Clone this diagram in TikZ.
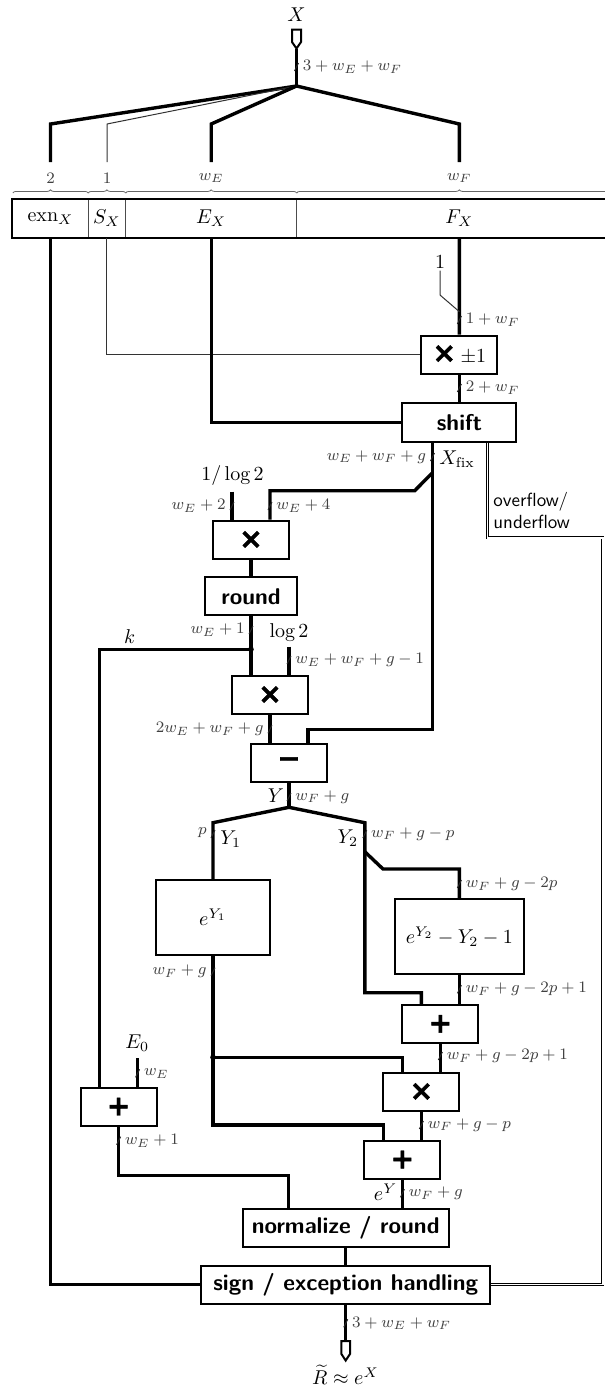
\documentclass[tikz,border=0pt]{standalone}
\usepackage{fontspec}
\newfontfamily\opfont{DejaVu Sans}[BoldFeatures={FakeBold=1.5}]
\usetikzlibrary{decorations.pathreplacing}
\newcommand\bustick[2]{\draw[tickln] (#1,#2) ++(-2,4) -- ++(4,-8);}
\begin{document}
\begin{tikzpicture}[x=0.5pt,y=-0.5pt,
  bus/.style={line width=1.7pt},
  wire/.style={line width=0.5pt,black!80},
  blk/.style={draw,line width=1pt,fill=white,inner sep=0pt,minimum width=38pt,minimum height=19pt,font=\sffamily\bfseries\fontsize{11.4}{13}\selectfont},
  opr/.style={blk,font=\opfont\bfseries\fontsize{14}{14}\selectfont},
  regfield/.style={draw=black!70,line width=0.4pt,inner sep=0pt,minimum height=19pt},
  lbl/.style={inner sep=1pt,font=\footnotesize,text=black!75},
  sig/.style={inner sep=1pt},
  tickln/.style={line width=0.5pt,black!85},
  dbl/.style={double,double distance=0.8pt,line width=0.4pt},
  brc/.style={decorate,decoration={brace,amplitude=1.6pt},line width=0.4pt,black!60},
  pinbox/.style={line width=1pt,fill=white}]
\useasboundingbox (0,0) rectangle (605,1389);
\clip (0,0) rectangle (605,1389);

% ---------- input ----------
\node[sig] (Xl) at (296.5,15) {$X$};
\coordinate (inpin) at (296.5,48.5);
\coordinate (br) at (296.5,86);
\draw[bus] (inpin) -- (br);
\draw[pinbox] (292,29.5) -- (301,29.5) -- (301,42) -- (inpin) -- (292,42) -- cycle;
\bustick{296.5}{67}
\node[lbl,anchor=west] (lin) at (300.5,67) {$3+w_E+w_F$};

% ---------- register ----------
\node[regfield,minimum width=37.7pt] (exn) at (50.5,218.3) {$\mathrm{exn}_X$};
\node[regfield,minimum width=18.75pt] (sx) at (106.95,218.3) {$S_X$};
\node[regfield,minimum width=85.5pt] (ex) at (211.2,218.3) {$E_X$};
\node[regfield,minimum width=162.65pt] (fx) at (459.35,218.3) {$F_X$};
\draw[line width=1pt] (exn.north west) rectangle (fx.south east);

\draw[brc] (12.8,193) -- (88.2,193);
\draw[brc] (88.2,193) -- (125.7,193);
\draw[brc] (125.7,193) -- (296.7,193);
\draw[brc] (296.7,193) -- (622,193);
\node[lbl] (w2) at (50.5,178) {$2$};
\node[lbl] (w1) at (107,178) {$1$};
\node[lbl] (wE) at (211.2,178) {$w_E$};
\node[lbl] (wF) at (459.4,178) {$w_F$};

\coordinate (tA) at (50.5,162);
\coordinate (tB) at (107,162);
\coordinate (tC) at (211.2,162);
\coordinate (tD) at (459.4,162);
\draw[bus] (br) -- (50.5,124) -- (tA);
\draw[wire] (br) -- (107,124) -- (tB);
\draw[bus] (br) -- (211.2,124) -- (tC);
\draw[bus] (br) -- (459.4,124) -- (tD);

% ---------- blocks ----------
\node[opr] (mulsign) at (459.4,354.7) {×\,{\normalfont\normalsize$\pm1$}};
\node[blk,minimum width=57pt,minimum height=19.2pt] (shift) at (459.4,422.5) {shift};
\node[opr] (mulA) at (251,539.7) {×};
\node[blk,minimum width=45.6pt] (rnd) at (251,596.3) {round};
\node[opr] (mulB) at (270,694.8) {×};
\node[opr] (sub) at (289,762.5) {−};
\node[blk,minimum width=57pt,minimum height=37.5pt,font=\normalsize] (expA) at (213,917.5) {$e^{Y_1}$};
\node[blk,minimum width=64.8pt,minimum height=37.5pt,font=\normalsize] (expB) at (459.4,936.5) {$e^{Y_2}-Y_2-1$};
\node[opr] (addB) at (440.4,1023.8) {+};
\node[opr] (mulC) at (421.4,1091.7) {×};
\node[opr] (addC) at (402.4,1159.5) {+};
\node[opr] (addA) at (118.6,1106.7) {+};
\node[blk,minimum width=102.8pt] (norm) at (345.7,1227.8) {normalize / round};
\node[blk,minimum width=144.6pt] (sign) at (345.7,1284.5) {sign / exception handling};

% ---------- register outputs ----------
\draw[bus] (exn.south) |- (sign.west);
\draw[wire] (sx.south) |- (mulsign.west);
\draw[bus] (ex.south) |- (shift.west);
\draw[bus] (fx.south) -- (mulsign.north);

\node[sig] (one) at (440,261.7) {$1$};
\coordinate (oneA) at (440,295);
\coordinate (oneB) at (459.4,311.7);
\draw[wire] (one.south) -- (oneA) -- (oneB);
\bustick{459.4}{320}
\node[lbl,anchor=west] (l1w) at (463.4,320) {$1+w_F$};

\draw[bus] (mulsign.south) -- (shift.north);
\bustick{459.4}{388}
\node[lbl,anchor=west] (l2w) at (463.4,388) {$2+w_F$};

% ---------- X_fix ----------
\coordinate (xfT) at ([xshift=-13.45pt]shift.south);
\coordinate (xfS) at (432.5,472.7);
\coordinate (xfD) at (414.7,490.7);
\coordinate (xfB) at (270,490.7);
\coordinate (xfC) at (432.5,729.3);
\coordinate (xfE) at (308,729.3);
\draw[bus] (xfT) -- (xfC) -- (xfE) -- (xfE |- sub.north);
\draw[bus] (xfS) -- (xfD) -- (xfB) -- (xfB |- mulA.north);
\bustick{432.5}{457}
\node[lbl,anchor=east] (lxf) at (428.5,457) {$w_E+w_F+g$};
\node[sig,anchor=west] (xfl) at (437,459) {$X_{\mathrm{fix}}$};
\bustick{270}{506}
\node[lbl,anchor=west] (lwe4) at (274,506) {$w_E+4$};

% ---------- overflow ----------
\coordinate (ovT) at ([xshift=14pt]shift.south);
\coordinate (ovR) at (602.7,537.7);
\draw[dbl] (ovT) |- (ovR) |- (sign.east);
\node[anchor=north west,inner sep=0pt,align=left,font=\sffamily\fontsize{9.5}{10.85}\selectfont] (ovl) at (493,492) {overflow/\\underflow};

% ---------- 1/log2 ----------
\node[sig] (invl) at (232.5,475) {$1/\log 2$};
\coordinate (invA) at (232,491.7);
\draw[bus] (invA) -- (invA |- mulA.north);
\bustick{232}{506}
\node[lbl,anchor=east] (lwe2) at (228,506) {$w_E+2$};

\draw[bus] (mulA.south) -- (rnd.north);
\draw[bus] (rnd.south) -- (rnd.south |- mulB.north);
\bustick{251}{630}
\node[lbl,anchor=east] (lwe1) at (247,630) {$w_E+1$};
\coordinate (kdot) at (251,649.3);
\fill (kdot) circle[radius=1.4pt];

\node[sig] (lg2) at (289,632.7) {$\log 2$};
\coordinate (lgA) at (289,646.7);
\draw[bus] (lgA) -- (lgA |- mulB.north);
\bustick{289}{660}
\node[lbl,anchor=west] (llg) at (293,660) {$w_E+w_F+g-1$};

% ---------- k ----------
\node[sig] (kl) at (129.6,636.7) {$k$};
\coordinate (kC) at (99.6,649.3);
\draw[bus] (kdot) -- (kC) -- (kC |- addA.north);

% ---------- subtract ----------
\draw[bus] (mulB.south) -- (mulB.south |- sub.north);
\bustick{270}{729.3}
\node[lbl,anchor=east] (l2we) at (266,729.3) {$2w_E+w_F+g$};

\coordinate (ybr) at (289,807.3);
\draw[bus] (sub.south) -- (ybr);
\bustick{289}{797}
\node[sig,anchor=east] (Yl) at (286.3,796) {$Y$};
\node[lbl,anchor=west] (lY) at (293,797) {$w_F+g$};

% ---------- Y1 / Y2 ----------
\coordinate (y1c) at (213,822.7);
\draw[bus] (ybr) -- (y1c) -- (y1c |- expA.north);
\bustick{213}{834}
\node[lbl,anchor=east] (lp) at (209,833) {$p$};
\node[sig,anchor=west] (Y1l) at (218,839) {$Y_1$};

\coordinate (y2c) at (364.8,822.7);
\coordinate (y2d) at (364.8,992.7);
\coordinate (y2e) at (421.4,992.7);
\draw[bus] (ybr) -- (y2c) -- (y2d) -- (y2e) -- (y2e |- addB.north);
\bustick{364.8}{834}
\node[sig,anchor=east] (Y2l) at (360.5,838) {$Y_2$};
\node[lbl,anchor=west] (lY2) at (368.8,834) {$w_F+g-p$};

\coordinate (y2f) at (364.8,851.7);
\coordinate (y2g) at (383,869);
\coordinate (y2h) at (459.4,869);
\draw[bus] (y2f) -- (y2g) -- (y2h) -- (expB.north);
\bustick{459.4}{884}
\node[lbl,anchor=west] (lY2b) at (463.4,884) {$w_F+g-2p$};

\draw[bus] (expB.south) -- (expB.south |- addB.north);
\bustick{459.4}{989.3}
\node[lbl,anchor=west] (lexB) at (463.4,989.3) {$w_F+g-2p+1$};

\draw[bus] (addB.south) -- (addB.south |- mulC.north);
\bustick{440.4}{1056}
\node[lbl,anchor=west] (laddB) at (444.4,1056) {$w_F+g-2p+1$};

% ---------- e^Y1 path ----------
\coordinate (eaC) at (213,1125);
\coordinate (eaD) at (383.4,1125);
\draw[bus] (expA.south) -- (eaC) -- (eaD) -- (eaD |- addC.north);
\bustick{213}{971.7}
\node[lbl,anchor=east] (lexA) at (209,971.7) {$w_F+g$};
\coordinate (eaDot) at (213,1057.3);
\coordinate (eaE) at (402.4,1057.3);
\fill (eaDot) circle[radius=1.4pt];
\draw[bus] (eaDot) -- (eaE) -- (eaE |- mulC.north);

\draw[bus] (mulC.south) -- (mulC.south |- addC.north);
\bustick{421.4}{1125}
\node[lbl,anchor=west] (lmulC) at (425.4,1125) {$w_F+g-p$};

% ---------- E0 ----------
\node[sig] (E0l) at (137.3,1043.3) {$E_0$};
\coordinate (e0c) at (137.6,1058.3);
\draw[bus] (e0c) -- (e0c |- addA.north);
\bustick{137.6}{1073.3}
\node[lbl,anchor=west] (lE0) at (141.6,1073.3) {$w_E$};

\coordinate (aaC) at (118.6,1175.7);
\coordinate (aaD) at (288.7,1175.7);
\draw[bus] (addA.south) -- (aaC) -- (aaD) -- (aaD |- norm.north);
\bustick{118.6}{1140.7}
\node[lbl,anchor=west] (laddA) at (122.6,1140.7) {$w_E+1$};

\draw[bus] (addC.south) -- (addC.south |- norm.north);
\bustick{402.4}{1193.3}
\node[sig,anchor=east] (eYl) at (399.5,1192) {$e^Y$};
\node[lbl,anchor=west] (laddC) at (406.4,1193.3) {$w_F+g$};

\draw[bus] (norm.south) -- (sign.north);

% ---------- output ----------
\coordinate (outpin) at (345.7,1341);
\draw[bus] (sign.south) -- (outpin);
\draw[pinbox] (341.4,1341) -- (350,1341) -- (350,1354) -- (345.7,1360.5) -- (341.4,1354) -- cycle;
\bustick{345.7}{1323.3}
\node[lbl,anchor=west] (lout) at (349.7,1323.3) {$3+w_E+w_F$};
\node[sig] (Rl) at (345.5,1375) {$\widetilde{R}\approx e^X$};
\end{tikzpicture}
\end{document}
